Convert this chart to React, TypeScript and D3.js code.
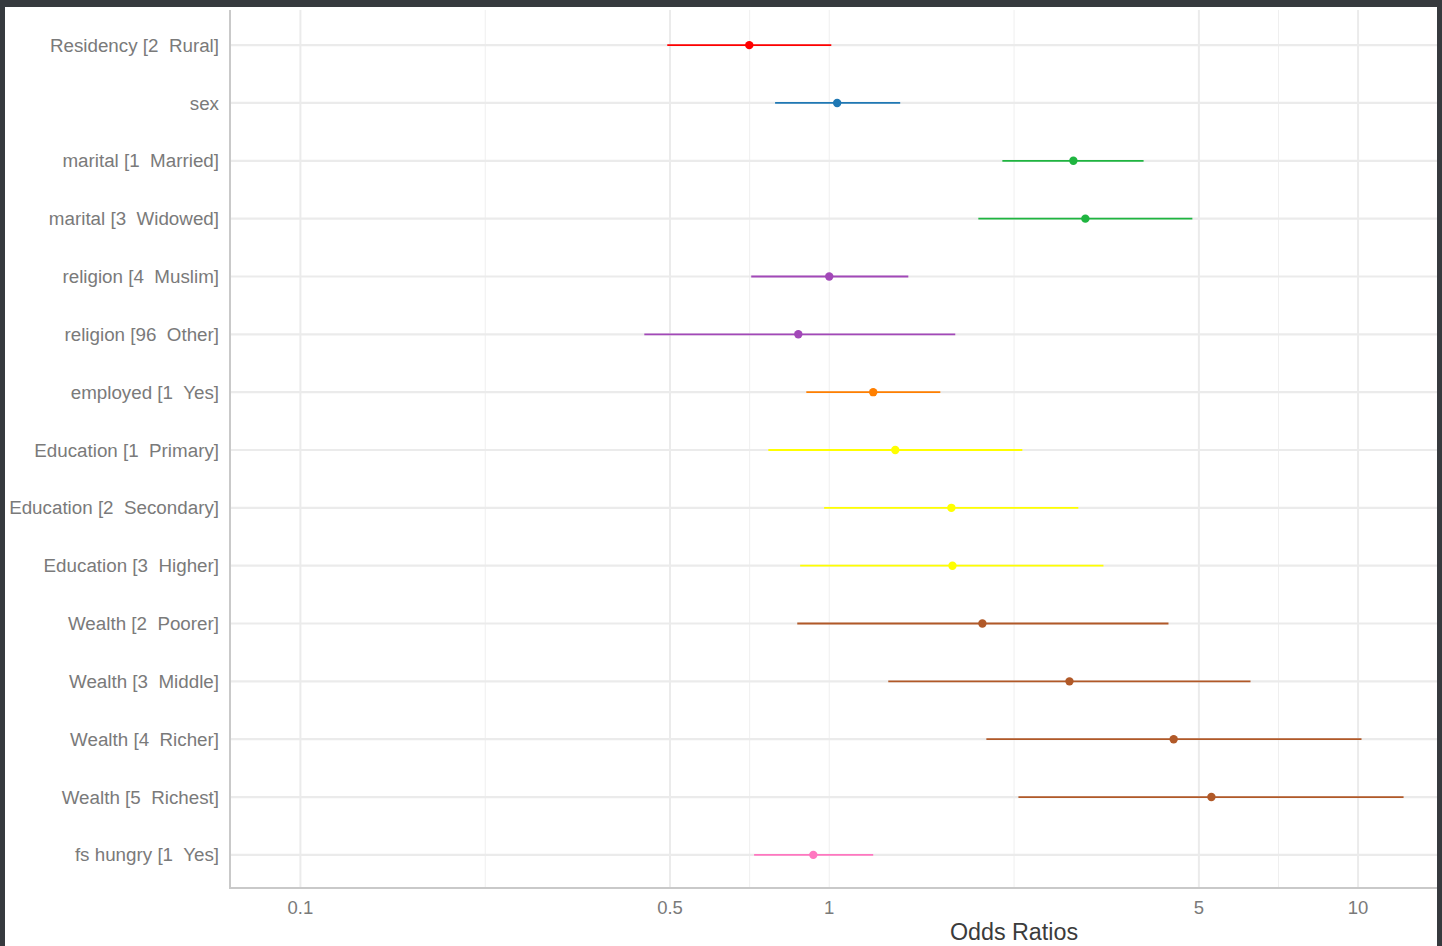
import React from "react";
import * as d3 from "d3";

// terms, top to bottom
const terms = [
  "Residency [2  Rural]",
  "sex",
  "marital [1  Married]",
  "marital [3  Widowed]",
  "religion [4  Muslim]",
  "religion [96  Other]",
  "employed [1  Yes]",
  "Education [1  Primary]",
  "Education [2  Secondary]",
  "Education [3  Higher]",
  "Wealth [2  Poorer]",
  "Wealth [3  Middle]",
  "Wealth [4  Richer]",
  "Wealth [5  Richest]",
  "fs hungry [1  Yes]",
];
const estimates = [0.706, 1.035, 2.895, 3.05, 1.0, 0.874, 1.211, 1.333, 1.702, 1.71, 1.948, 2.846, 4.48, 5.28, 0.933];
const lower = [0.494, 0.79, 2.125, 1.914, 0.712, 0.447, 0.905, 0.767, 0.978, 0.881, 0.87, 1.293, 1.982, 2.279, 0.721];
const upper = [1.009, 1.362, 3.93, 4.86, 1.411, 1.731, 1.622, 2.318, 2.958, 3.3, 4.38, 6.26, 10.15, 12.19, 1.211];
const groups = ["res", "sex", "mar", "mar", "rel", "rel", "emp", "edu", "edu", "edu", "wea", "wea", "wea", "wea", "fs"];
const groupColors: Record<string, string> = {
  res: "#ff0000",
  sex: "#1f78b4",
  mar: "#1fb540",
  rel: "#a248b8",
  emp: "#ff7f00",
  edu: "#ffff00",
  wea: "#b15928",
  fs: "#ff77c0",
};
const majorTicks = [0.1, 0.5, 1, 5, 10];
const minorTicks = [Math.sqrt(0.05), Math.sqrt(0.5), 1, Math.sqrt(5), Math.sqrt(50)];

const W = 1442;
const H = 946;
const left = 230;
const right = 1437;
const top = 10;
const bottom = 888;

export default function App() {
  const x = d3
    .scaleLog()
    .domain([0.0736, 14.1])
    .range([left, right]);
  const y = d3.scalePoint<string>().domain(terms).range([top + 1, bottom + 1]).padding(0.59);
  const font = "'Liberation Sans', Arial, sans-serif";

  return (
    <div style={{ position: "fixed", left: 0, top: 0, width: W, height: H, background: "#363a3e" }}>
      <svg width={W} height={H} style={{ display: "block" }}>
        <rect x={5} y={7} width={right - 5} height={H - 7} fill="#ffffff" />
        {/* grid */}
        {minorTicks.map((t, i) => (
          <line key={"mi" + i} x1={x(t)} x2={x(t)} y1={top} y2={bottom} stroke="#efefef" strokeWidth={1} />
        ))}
        {majorTicks
          .filter((t) => t !== 1)
          .map((t, i) => (
            <line key={"ma" + i} x1={x(t)} x2={x(t)} y1={top} y2={bottom} stroke="#ebebeb" strokeWidth={2} />
          ))}
        {terms.map((t) => (
          <line key={"h" + t} x1={left} x2={right} y1={y(t)} y2={y(t)} stroke="#ebebeb" strokeWidth={2.2} />
        ))}
        {/* axes */}
        <line x1={left} x2={left} y1={top} y2={bottom + 1} stroke="#c9c9c9" strokeWidth={2} />
        <line x1={left} x2={right} y1={bottom} y2={bottom} stroke="#c9c9c9" strokeWidth={2} />
        {/* y labels */}
        {terms.map((t) => (
          <text
            key={"l" + t}
            x={219}
            y={y(t)}
            dy="0.35em"
            textAnchor="end"
            fontFamily={font}
            fontSize={18.8}
            fill="#7a7a7a"
            style={{ whiteSpace: "pre" }}
          >
            {t}
          </text>
        ))}
        {/* x ticks */}
        {majorTicks.map((t) => (
          <text key={"t" + t} x={x(t)} y={914} textAnchor="middle" fontFamily={font} fontSize={18.5} fill="#7a7a7a">
            {String(t)}
          </text>
        ))}
        <text x={1014} y={940} textAnchor="middle" fontFamily={font} fontSize={23.3} fill="#3b3b3b">
          Odds Ratios
        </text>
        {/* estimates */}
        {terms.map((t, i) => {
          const c = groupColors[groups[i]];
          return (
            <g key={"e" + t}>
              <line x1={x(lower[i])} x2={x(upper[i])} y1={y(t)} y2={y(t)} stroke={c} strokeWidth={1.8} />
              <circle cx={x(estimates[i])} cy={y(t)} r={4.2} fill={c} />
            </g>
          );
        })}
      </svg>
    </div>
  );
}
